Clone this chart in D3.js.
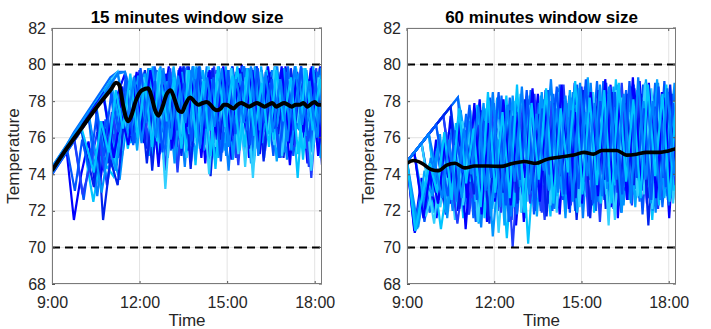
<!DOCTYPE html>
<html><head><meta charset="utf-8">
<script src="https://cdn.jsdelivr.net/npm/d3@7"></script>
<style>body{margin:0;background:#fff}svg{display:block}</style>
</head><body><svg id="c" width="711" height="329"></svg>
<script>
// ---- DATA ----
// Time in minutes after 9:00; blue trajectories sampled every 15 minutes
const xTickValues = [0, 180, 360, 540];
const xTickLabels = ["9:00", "12:00", "15:00", "18:00"];
const yTickValues = [68, 70, 72, 74, 76, 78, 80, 82];
const comfortBounds = [70, 80];
const stepMinutes = 15;

const leftTitle = "15 minutes window size";
const leftShifts = [0,5,10,3,8,12,2,7,11,4,9,1,6,13,3,10,5,8,0,12,7,2,11,4];
const leftLines = [
[74.2,74.8,75.3,71.5,74.0,75.8,73.2,76.9,75.1,78.4,79.5,76.2,79.7,75.4,79.3,76.8,79.9,75.1,79.2,76.4,79.8,74.6,78.8,76.5,79.7,75.9,80.0,74.9,79.1,76.3,79.6,75.4,79.9,76.1,79.3,74.6,79.5,76.8],
[74.3,74.9,75.5,76.1,72.6,75.4,73.8,77.0,74.9,78.6,76.2,79.4,75.8,79.8,76.9,78.6,75.3,79.7,76.1,79.9,75.6,78.9,74.8,79.6,76.7,79.4,75.2,79.8,76.9,78.7,75.0,79.6,77.1,79.9,75.7,78.8,76.2,79.7],
[74.1,74.7,75.3,75.9,76.5,72.5,75.0,73.7,77.6,75.4,79.0,76.8,79.6,74.9,79.1,76.3,79.8,75.9,79.4,74.5,79.7,76.6,79.2,75.3,79.9,76.1,78.8,74.9,79.5,76.5,79.9,75.6,79.1,73.8,79.4,76.3,79.8,75.1],
[74.2,74.8,75.4,76.0,76.6,77.2,72.8,75.9,74.4,78.1,76.0,79.3,77.1,79.8,75.6,79.5,76.8,79.0,74.4,79.6,76.3,79.9,75.7,79.1,74.2,79.6,76.9,79.8,75.4,79.3,76.7,78.9,74.8,79.7,75.9,79.2,76.4,79.9],
[74.0,74.6,75.2,75.8,76.4,77.0,77.6,73.4,76.2,74.8,78.4,75.9,79.5,76.7,78.8,74.2,79.6,75.8,79.9,76.3,79.0,75.1,79.7,76.9,79.3,74.5,79.8,75.7,79.0,76.6,79.9,75.2,79.4,76.5,79.7,73.8,79.1,75.6],
[74.3,74.9,75.5,76.1,76.7,77.3,77.9,78.5,74.6,77.8,75.7,79.2,76.3,79.9,75.1,79.4,76.6,79.8,75.7,78.9,76.2,79.6,74.9,79.9,76.4,79.1,75.5,79.7,76.8,79.3,74.7,79.8,76.1,79.0,75.4,79.6,76.9,79.2],
[74.4,75.0,75.6,76.3,76.9,77.5,78.1,78.7,79.3,79.6,79.6,76.4,79.1,77.0,79.8,75.4,79.3,76.9,79.9,75.6,79.4,76.8,79.7,75.3,79.0,76.5,79.9,75.8,79.2,76.9,79.7,75.2,79.5,76.6,79.9,75.9,79.3,77.0],
[74.3,74.9,75.5,76.1,76.7,77.3,77.9,78.5,79.1,79.6,76.6,78.9,76.0,79.6,75.1,78.8,76.2,79.7,74.9,79.3,76.7,79.9,75.5,79.1,76.3,79.8,74.4,79.4,76.1,79.9,75.6,79.0,76.9,79.8,75.3,79.5,76.4,79.9],
[74.1,74.7,75.3,75.9,76.5,73.3,76.8,74.6,78.0,75.3,79.2,76.9,79.7,74.2,78.9,76.4,79.5,75.0,79.9,76.6,79.2,73.9,79.6,75.8,79.9,76.8,79.3,75.0,79.7,76.2,79.1,74.9,79.8,76.7,79.4,75.3,79.9,74.4],
[74.2,74.8,75.4,76.0,76.6,77.2,77.8,78.4,75.1,73.7,77.2,75.8,78.9,75.0,79.7,77.0,79.2,74.7,79.6,75.9,79.9,76.6,79.3,75.2,79.5,76.0,79.9,74.6,79.2,76.4,79.7,75.8,79.1,76.9,79.8,75.1,79.6,76.3],
[74.2,74.8,75.4,76.0,76.6,77.2,73.6,76.4,75.0,78.8,77.1,79.6,75.7,78.9,74.4,79.5,76.5,79.9,75.3,79.1,76.9,79.7,75.9,79.4,74.8,79.8,76.3,79.0,75.6,79.9,76.8,79.3,74.5,79.6,76.0,79.9,75.5,79.4],
[74.0,74.6,75.2,75.8,76.4,77.0,77.6,78.2,78.8,74.9,78.2,76.5,79.4,75.9,79.9,76.8,79.1,75.5,79.6,74.7,79.8,76.1,79.0,76.9,79.6,75.4,79.2,76.7,79.9,74.9,79.4,76.2,79.8,75.0,79.1,76.6,79.7,75.8],
[74.3,74.9,75.5,76.1,76.7,77.3,77.9,74.5,73.9,77.6,75.4,79.0,77.2,79.8,75.8,78.7,76.6,79.4,75.2,79.9,76.0,79.1,74.3,79.5,76.8,79.9,75.5,79.2,76.4,79.7,75.9,79.0,76.5,79.9,74.8,79.3,76.7,79.6],
[74.1,74.7,75.3,75.9,76.5,77.1,77.7,78.3,78.9,79.5,79.6,77.0,79.5,76.1,79.9,74.9,79.2,76.5,79.7,75.9,79.0,76.8,79.9,75.0,79.4,76.2,79.8,75.6,79.3,76.9,79.9,75.2,79.1,76.4,79.7,75.6,79.8,76.6],
[74.2,74.8,75.4,76.0,72.9,74.4,76.3,74.1,77.4,75.6,78.8,76.2,79.6,75.3,79.0,76.7,79.8,74.1,79.3,76.2,79.6,75.6,79.9,76.3,78.9,74.9,79.5,76.5,79.8,75.3,79.2,76.8,79.7,75.5,79.4,74.4,79.8,76.0],
[74.3,74.9,75.5,76.1,76.7,77.3,77.9,78.5,79.1,76.2,79.0,75.3,79.5,76.7,78.8,75.6,79.9,76.2,79.3,74.8,79.7,76.4,79.1,75.7,79.8,76.9,79.3,74.6,79.9,76.2,79.5,75.9,79.0,76.5,79.8,75.2,79.4,76.9],
[74.2,74.8,75.4,76.0,76.6,77.2,77.8,74.3,77.5,76.1,79.1,75.7,78.6,76.9,79.7,74.8,79.2,76.1,79.8,75.5,79.4,76.6,78.9,75.2,79.7,76.0,79.9,75.3,78.9,76.6,79.5,74.9,79.9,76.2,79.1,75.7,79.6,76.5],
[74.1,74.7,75.3,75.9,76.5,77.1,77.7,78.3,78.9,75.3,78.6,76.3,79.3,75.9,79.6,73.2,78.8,76.0,79.7,75.7,79.2,74.0,79.5,76.3,79.8,75.1,79.3,73.8,79.6,76.4,79.9,75.0,79.2,76.8,79.8,74.2,79.3,75.8],
[74.2,74.8,75.4,76.0,76.6,77.2,77.8,71.5,74.8,73.4,77.5,75.8,79.0,74.6,78.7,76.3,79.6,75.5,79.9,74.3,79.4,76.8,79.8,75.9,79.1,76.1,79.6,75.4,79.9,74.7,79.3,76.2,79.8,75.6,79.0,76.9,79.6,74.5],
[74.4,75.0,75.6,76.2,76.8,77.4,73.0,75.5,74.2,77.9,76.1,79.4,76.8,79.8,75.7,79.1,74.6,79.6,76.2,79.9,75.3,79.2,76.9,79.7,74.8,79.5,76.4,79.9,75.7,79.0,76.6,79.8,75.3,79.5,76.1,79.9,74.9,79.2],
[74.2,74.8,75.4,76.0,76.6,77.2,77.8,78.4,74.9,77.3,75.6,78.9,76.1,79.7,77.2,79.0,75.4,79.8,76.6,79.2,74.9,79.6,76.3,79.9,75.8,79.0,76.9,79.7,75.1,79.4,76.5,79.9,75.7,79.2,76.3,79.8,75.0,79.5],
[74.3,74.9,75.5,73.1,75.9,74.2,77.3,75.0,78.5,76.3,79.4,75.6,79.8,76.9,79.1,75.2,79.6,76.4,79.0,75.8,79.9,76.5,79.3,74.7,79.7,76.2,79.1,75.6,79.8,76.8,79.2,74.9,79.6,76.4,79.9,75.8,79.0,76.2],
[74.2,74.8,75.4,76.0,76.6,74.1,76.9,75.2,78.6,76.5,79.5,76.0,79.0,75.5,79.8,76.9,79.3,75.4,79.7,76.0,79.1,75.0,79.9,76.6,79.4,75.3,79.8,76.1,79.0,75.5,79.7,76.9,79.3,75.1,79.8,76.4,79.2,75.6],
[74.1,74.7,75.3,75.9,76.5,77.1,77.7,78.3,78.9,79.5,76.8,79.3,75.7,78.6,76.0,79.8,75.9,79.4,76.8,79.9,75.4,79.3,76.6,79.8,75.5,79.2,76.8,79.9,75.0,79.6,76.3,79.2,75.8,79.9,76.7,79.1,76.0,79.7]
];
const leftMeanTime = [0,30,60,90,120,132,138,146,152,157,163,172,185,198,205,212,219,226,236,244,252,260,267,274,284,292,301,310,318,326,332,339,347,353,359,366,373,381,389,397,405,413,421,429,437,445,453,461,469,477,485,493,501,509,517,525,533,540,547,555];
const leftMeanTemp = [74.2,75.4,76.5,77.6,78.6,79.0,78.9,77.8,77.1,76.9,77.2,78.0,78.6,78.7,78.2,77.5,77.2,77.6,78.4,78.6,78.1,77.5,77.4,77.8,78.2,78.0,77.8,77.9,77.95,77.8,77.6,77.5,77.6,77.8,77.8,77.7,77.6,77.8,77.9,77.8,77.7,77.8,77.9,77.8,77.7,77.8,77.9,77.7,77.8,77.9,77.8,77.7,77.8,77.8,77.9,77.7,77.85,77.95,77.8,77.8];

const rightTitle = "60 minutes window size";
const rightShifts = [0,6,11,3,8,13,2,9,5,12,1,7,10,4,14,6,0,11,3,8,4,9,2,12];
const rightLines = [
[74.7,70.9,73.8,72.4,75.9,73.1,77.2,72.0,76.4,73.8,78.1,71.4,75.6,72.9,77.8,71.2,76.3,73.5,78.4,72.2,76.9,71.8,77.6,73.3,78.8,72.0,76.4,74.1,78.9,71.6,77.3,73.0,79.1,72.4,76.8,73.7,78.5,72.6],
[74.7,75.2,71.4,74.0,72.6,76.3,73.4,77.5,71.8,75.9,73.0,78.2,72.6,76.7,71.5,77.9,73.9,76.1,72.0,78.6,73.4,77.2,71.9,78.9,72.8,76.5,74.2,79.0,72.1,77.6,73.6,78.3,71.8,77.9,72.9,79.1,73.2,77.4],
[74.7,75.2,75.7,71.9,74.6,72.8,76.8,71.6,75.4,73.3,77.6,72.1,76.2,70.5,75.8,72.7,77.9,73.6,76.6,71.7,78.3,72.9,76.0,74.0,78.6,71.9,77.4,73.1,79.2,72.5,76.7,74.3,78.8,71.5,77.1,72.8,78.6,73.9],
[74.7,75.2,75.7,76.2,72.3,75.1,73.0,77.0,72.4,76.1,71.1,77.3,73.5,78.0,72.2,76.4,71.6,77.7,73.8,78.5,72.5,77.0,73.9,78.2,71.6,77.8,73.3,78.7,72.7,77.2,74.0,78.9,73.1,77.5,71.9,78.4,74.1,77.0],
[74.7,75.2,75.7,76.2,76.7,77.2,72.9,75.6,71.8,74.9,73.4,77.8,72.0,76.9,70.0,76.0,73.1,78.4,71.9,77.1,73.7,78.9,72.3,76.7,73.9,78.1,71.4,77.6,73.5,79.0,72.6,76.9,73.4,78.6,72.1,77.7,73.6,78.2],
[74.7,75.2,75.7,76.2,76.7,77.2,77.7,78.2,74.2,71.3,76.4,72.9,77.9,73.6,76.6,72.2,78.3,71.7,77.5,73.9,78.7,72.4,77.9,74.3,79.3,73.0,77.4,72.2,78.9,73.8,77.6,72.7,79.2,73.3,78.0,72.6,78.8,74.0],
[74.7,71.2,73.6,71.9,75.4,72.7,76.5,73.5,77.3,71.6,76.0,73.1,77.5,72.4,78.2,71.8,76.6,73.9,77.9,72.3,78.4,73.2,76.8,72.0,78.0,73.7,79.1,72.6,77.3,74.0,78.6,72.9,77.8,73.5,79.0,72.2,77.4,73.4],
[74.7,75.2,71.7,73.4,72.2,75.6,71.5,76.9,73.8,75.4,72.6,77.2,70.8,75.9,73.6,78.4,72.5,76.7,74.1,77.6,71.9,78.1,73.3,76.9,72.8,78.5,74.0,77.0,71.5,78.2,73.9,77.3,72.9,78.7,73.8,77.9,72.4,78.6],
[74.7,75.2,75.7,72.6,74.3,71.8,75.2,73.7,76.4,72.1,77.5,71.3,76.5,73.2,77.1,72.6,78.0,73.0,76.8,72.4,77.6,74.0,78.3,71.5,77.7,73.6,78.6,72.1,77.9,73.3,78.4,74.2,77.1,72.7,78.9,73.5,77.6,72.9],
[74.7,75.2,75.7,76.2,76.7,72.4,75.0,71.9,76.8,72.9,77.0,70.6,75.3,73.9,77.4,71.9,76.2,73.4,78.1,72.8,77.3,71.6,78.5,73.4,77.1,72.7,78.2,73.9,77.6,72.3,78.8,73.7,77.0,72.0,78.1,74.2,79.0,73.0],
[74.7,70.8,72.5,74.3,71.6,75.9,72.4,77.1,71.0,76.2,73.5,77.7,72.5,75.8,73.1,78.0,71.4,77.2,73.3,78.6,72.7,77.4,73.0,79.0,72.4,76.9,73.6,78.3,72.2,77.8,73.1,79.3,72.8,77.2,73.8,78.5,71.6,77.9],
[74.7,75.2,75.7,76.2,76.7,77.2,77.7,73.0,75.2,71.4,76.6,73.3,77.9,72.0,76.3,73.8,78.6,71.8,77.5,73.0,78.2,72.6,76.8,73.5,78.8,72.3,77.9,73.8,78.3,71.9,77.5,73.2,78.9,72.5,77.6,73.6,78.4,72.1],
[74.7,75.2,75.7,76.2,71.0,73.8,72.3,76.0,73.6,77.8,71.6,76.4,73.7,78.3,72.2,76.8,70.2,75.9,73.4,78.0,72.8,76.6,74.2,78.7,73.0,77.6,72.4,78.4,73.4,77.0,72.6,78.6,73.9,77.8,72.3,78.9,73.1,77.5],
[74.7,75.2,72.1,74.9,73.3,76.4,72.0,75.5,73.9,77.6,72.8,78.0,73.4,77.1,71.7,77.6,72.9,78.5,73.5,77.5,72.1,78.7,73.9,77.8,73.1,79.0,72.5,77.5,73.8,78.3,72.6,77.6,74.4,78.6,73.0,77.8,72.7,79.1],
[74.7,75.2,75.7,76.2,76.7,77.2,71.3,74.4,72.7,76.7,73.2,77.9,71.9,76.1,73.0,77.8,72.4,76.4,71.5,78.2,73.6,77.9,72.6,78.4,71.7,77.3,74.0,78.8,73.0,77.7,72.3,78.4,73.7,77.9,72.8,78.1,73.4,77.2],
[74.7,71.0,74.2,72.8,76.0,71.9,74.8,73.2,77.1,72.5,76.6,72.8,78.2,71.2,77.0,73.7,77.6,72.6,78.3,73.2,77.0,72.8,78.6,71.9,78.1,73.3,77.2,72.9,78.8,74.2,77.9,72.2,78.2,73.3,79.2,72.7,77.8,73.6],
[74.7,75.2,75.7,76.2,76.7,77.2,77.7,78.2,72.5,76.3,74.0,77.6,72.7,78.3,71.4,77.3,72.8,78.6,73.4,77.2,72.0,78.9,72.9,77.6,73.4,78.3,72.0,79.1,72.9,78.0,73.3,77.9,72.5,78.6,73.5,78.1,72.3,78.7],
[74.7,75.2,75.7,71.3,75.0,73.0,76.1,72.3,77.5,71.4,75.7,72.5,77.0,73.4,78.0,71.9,77.8,73.6,76.9,72.3,78.5,73.8,77.7,72.2,78.4,73.5,77.8,71.2,78.6,73.6,77.4,72.8,79.0,72.1,78.3,73.9,78.0,71.5],
[74.7,75.2,75.7,76.2,76.7,77.2,77.7,72.1,75.8,72.9,77.4,71.6,76.2,73.0,77.5,72.4,78.1,73.1,77.3,71.7,77.9,73.9,77.1,72.7,78.6,71.6,77.7,73.7,78.5,72.3,77.9,73.4,78.4,71.2,77.7,73.8,78.9,72.9],
[74.7,71.1,73.5,72.9,76.2,71.6,75.6,72.7,76.9,73.9,77.9,71.7,75.9,72.9,78.3,73.3,77.4,72.2,78.5,73.1,77.6,72.9,78.2,73.8,77.4,72.6,78.9,73.2,77.6,71.9,78.4,73.9,78.0,72.4,79.0,73.2,77.3,73.4],
[74.7,75.2,71.6,74.4,72.4,75.8,73.5,76.8,72.7,77.9,71.8,76.8,73.2,78.1,72.3,77.4,73.8,78.7,72.5,77.8,73.3,78.9,72.1,77.4,73.6,78.5,72.8,79.2,73.4,77.9,72.6,78.7,73.1,79.0,72.7,78.2,73.5,78.6],
[74.7,75.2,75.7,76.2,76.7,72.8,76.4,74.1,77.8,72.6,76.9,73.8,78.5,72.3,77.2,73.7,78.1,72.0,77.6,74.0,78.8,72.9,77.5,73.2,79.2,72.4,78.0,73.6,78.5,72.9,79.1,73.8,77.6,72.6,78.8,73.3,77.9,74.2],
[74.7,70.9,72.9,74.6,73.0,76.3,72.6,77.6,73.5,76.5,72.2,78.5,73.0,77.4,72.7,78.9,71.9,77.9,73.7,78.7,72.4,77.6,74.1,79.1,72.9,78.2,73.4,78.6,72.4,79.0,73.6,78.1,72.7,78.9,73.9,78.4,72.5,78.9],
[74.7,75.2,75.7,76.2,72.7,75.9,72.5,76.5,74.0,77.7,73.1,78.5,72.2,77.8,73.6,78.8,72.9,77.3,74.2,79.2,73.0,78.3,72.5,79.0,73.9,77.9,72.8,78.8,73.7,78.4,72.4,79.3,73.7,78.0,72.6,78.7,73.9,79.2]
];
const rightMeanTime = [0,14,31,51,65,82,99,119,140,167,194,215,242,266,286,317,344,365,385,402,433,453,474,494,522,539,555];
const rightMeanTemp = [74.6,74.75,74.6,74.25,74.2,74.5,74.6,74.35,74.45,74.45,74.43,74.57,74.7,74.6,74.8,74.95,75.05,75.2,75.1,75.3,75.3,75.05,75.1,75.2,75.2,75.28,75.4];

const lineColors = ["#0000ff","#0055ff","#00c4ff","#0080ff","#1f3dff","#00a6ff","#0068ff","#33d0ff","#0022ee","#0094ff"];

// ---- DRAW ----
const svg = d3.select("#c");
const fontFam = "'Liberation Sans', Arial, Helvetica, sans-serif";
const yTop = 28, yBottom = 284;

const panels = [
  {title: leftTitle, x0: 52, x1: 322, lines: leftLines, shifts: leftShifts, mt: leftMeanTime, mv: leftMeanTemp, mw: 4},
  {title: rightTitle, x0: 407, x1: 676, lines: rightLines, shifts: rightShifts, mt: rightMeanTime, mv: rightMeanTemp, mw: 3.6}
];

panels.forEach((p, pi) => {
  const x = d3.scaleLinear().domain([0, 555]).range([p.x0, p.x1]);
  const y = d3.scaleLinear().domain([68, 82]).range([yBottom, yTop]);
  const g = svg.append("g");
  const clipId = "clip" + pi;
  svg.append("clipPath").attr("id", clipId).append("rect")
    .attr("x", p.x0).attr("y", yTop).attr("width", p.x1 - p.x0).attr("height", yBottom - yTop);

  // grid
  g.selectAll(".gx").data(xTickValues).join("line")
    .attr("x1", d => x(d)).attr("x2", d => x(d)).attr("y1", yTop).attr("y2", yBottom)
    .attr("stroke", "#e3e3e3").attr("stroke-width", 1);
  g.selectAll(".gy").data(yTickValues).join("line")
    .attr("x1", p.x0).attr("x2", p.x1).attr("y1", d => y(d)).attr("y2", d => y(d))
    .attr("stroke", "#e3e3e3").attr("stroke-width", 1);

  const plot = g.append("g").attr("clip-path", `url(#${clipId})`);
  const line = d3.line().x(d => x(d[0])).y(d => y(d[1]));
  p.lines.forEach((vals, li) => {
    // the common warm-up ramp stays on the 15-minute grid; the staggered offset starts at the first drop
    let firstDrop = vals.findIndex((v, i) => i > 0 && v < vals[i - 1]);
    if (firstDrop < 0) firstDrop = vals.length;
    const pts = vals.map((v, i) => [i * stepMinutes + (i >= firstDrop ? p.shifts[li] : 0), v]);
    plot.append("path").attr("d", line(pts)).attr("fill", "none")
      .attr("stroke", lineColors[li % lineColors.length]).attr("stroke-width", 2.2)
      .attr("stroke-linejoin", "miter");
  });
  // mean
  const meanPts = p.mt.map((t, i) => [t, p.mv[i]]);
  plot.append("path").attr("d", d3.line().x(d => x(d[0])).y(d => y(d[1])).curve(d3.curveMonotoneX)(meanPts))
    .attr("fill", "none").attr("stroke", "#000").attr("stroke-width", p.mw).attr("stroke-linejoin", "round");
  // dashed bounds
  plot.selectAll(".b").data(comfortBounds).join("line")
    .attr("x1", p.x0).attr("x2", p.x1).attr("y1", d => y(d)).attr("y2", d => y(d))
    .attr("stroke", "#000").attr("stroke-width", 2).attr("stroke-dasharray", "8,5");

  // axes
  const ax = g.append("g").attr("transform", `translate(0,${yBottom})`)
    .call(d3.axisBottom(x).tickValues(xTickValues).tickFormat((d, i) => xTickLabels[i]).tickSize(-3).tickPadding(13));
  const ay = g.append("g").attr("transform", `translate(${p.x0},0)`)
    .call(d3.axisLeft(y).tickValues(yTickValues).tickFormat(d3.format("d")).tickSize(-3).tickPadding(6));
  [ax, ay].forEach(a => {
    a.select(".domain").remove();
    a.selectAll(".tick line").attr("stroke", "#555");
    a.selectAll("text").attr("font-family", fontFam).attr("font-size", 16).attr("fill", "#262626");
  });
  // top/right ticks
  g.selectAll(".tt").data(xTickValues).join("line")
    .attr("x1", d => x(d)).attr("x2", d => x(d)).attr("y1", yTop).attr("y2", yTop + 3).attr("stroke", "#555");
  g.selectAll(".rt").data(yTickValues).join("line")
    .attr("x1", p.x1).attr("x2", p.x1 - 3).attr("y1", d => y(d)).attr("y2", d => y(d)).attr("stroke", "#555");
  // box
  g.append("rect").attr("x", p.x0 + 0.5).attr("y", yTop + 0.5).attr("width", p.x1 - p.x0 - 1).attr("height", yBottom - yTop - 1)
    .attr("fill", "none").attr("stroke", "#7a7a7a").attr("stroke-width", 1);

  // labels
  const cx = (p.x0 + p.x1) / 2;
  g.append("text").attr("x", cx).attr("y", 23).attr("text-anchor", "middle")
    .attr("font-family", fontFam).attr("font-size", 17).attr("font-weight", "bold").attr("fill", "#000").text(p.title);
  g.append("text").attr("x", cx).attr("y", 326).attr("text-anchor", "middle")
    .attr("font-family", fontFam).attr("font-size", 17).attr("fill", "#262626").text("Time");
  g.append("text").attr("transform", `translate(${p.x0 - 33},${(yTop + yBottom) / 2}) rotate(-90)`)
    .attr("text-anchor", "middle").attr("font-family", fontFam).attr("font-size", 17).attr("fill", "#262626").text("Temperature");
});
</script></body></html>
